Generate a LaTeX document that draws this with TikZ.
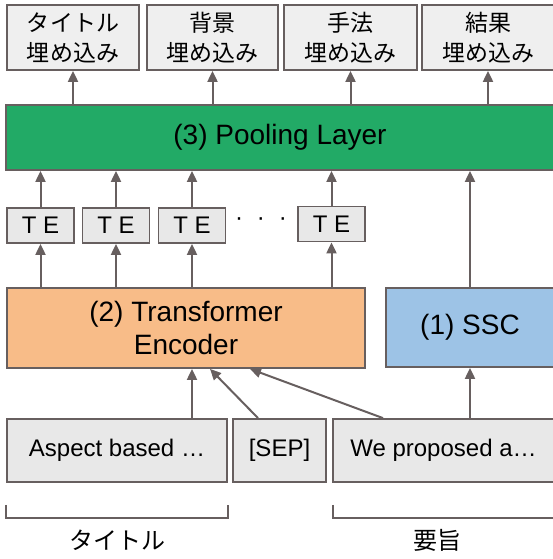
\documentclass[tikz,border=0pt]{standalone}
\usepackage{fontspec}
\setmainfont{Liberation Sans}
\newfontfamily\jpfont{Noto Sans CJK JP}
\usetikzlibrary{arrows.meta}

\definecolor{linegray}{HTML}{675F5F}
\definecolor{boxgray}{HTML}{E8E8E8}
\definecolor{poolgreen}{HTML}{22AA66}
\definecolor{encorange}{HTML}{F8BC88}
\definecolor{sscblue}{HTML}{9DC3E6}

\begin{document}
\begin{tikzpicture}[x=1pt,y=-1pt]

\tikzset{
  box/.style={
    draw=linegray,
    line width=1.8pt,
    rectangle,
    inner sep=0pt,
  },
  outbox/.style={
    box,
    fill=boxgray!70,
    minimum height=65pt,
    align=center,
    font=\jpfont\fontsize{23}{30}\selectfont,
  },
  tebox/.style={
    box,
    fill=boxgray,
    minimum width=67pt,
    minimum height=35pt,
    font=\fontsize{24}{28}\selectfont,
  },
  layer/.style={
    box,
    align=center,
    font=\fontsize{28}{33}\selectfont,
  },
  inbox/.style={
    box,
    fill=boxgray,
    minimum height=63pt,
    font=\fontsize{24}{28}\selectfont,
  },
  arr/.style={
    draw=linegray,
    line width=2pt,
    -{Triangle[width=10pt,length=11pt]},
  },
}

\useasboundingbox (0,0) rectangle (553,559);

% Output embeddings
\node[outbox, minimum width=132pt] (otitle) at (73,37.5)  {タイトル\\埋め込み};
\node[outbox, minimum width=131pt] (oback)  at (212.5,37.5) {背景\\埋め込み};
\node[outbox, minimum width=133pt] (ometh)  at (350.5,37.5) {手法\\埋め込み};
\node[outbox, minimum width=132pt] (ores)   at (488,37.5) {結果\\埋め込み};

% Pooling layer
\node[layer, fill=poolgreen, minimum width=548pt, minimum height=65pt] (pool) at (280,137.5) {(3) Pooling Layer};

% Token embeddings
\node[tebox] (te1) at (40.5,225.5) {T E};
\node[tebox] (te2) at (116,225.5)  {T E};
\node[tebox] (te3) at (192,225.5)  {T E};
\node[font=\fontsize{24}{28}\selectfont] (dots) at (261,222) {·\hspace{14pt}·\hspace{14pt}·};
\node[tebox] (te4) at (331.5,224)  {T E};

% Encoder and SSC
\node[layer, fill=encorange, minimum width=358pt, minimum height=80pt] (enc) at (186,328) {(2) Transformer\\Encoder};
\node[layer, fill=sscblue, minimum width=168pt, minimum height=79pt] (ssc) at (470,327.5) {(1) SSC};

% Inputs
\node[inbox, minimum width=220pt] (title) at (117,450.5)   {Aspect based …};
\node[inbox, minimum width=93pt]  (sep)   at (279.5,450.5) {[SEP]};
\node[inbox, minimum width=221pt] (abst)  at (443.5,450.5) {We proposed a…};

% Brackets and their labels
\draw[linegray, line width=2pt] ([yshift=-22pt]title.south west) -- ([yshift=-35pt]title.south west)
  -- ([yshift=-35pt]title.south east) -- ([yshift=-22pt]title.south east);
\draw[linegray, line width=2pt] ([xshift=1pt,yshift=-22pt]abst.south west) -- ([xshift=1pt,yshift=-35pt]abst.south west)
  -- ([yshift=-35pt]abst.south east);
\node[font=\jpfont\fontsize{24}{28}\selectfont] (ltitle) at (117,540) {タイトル};
\node[font=\jpfont\fontsize{24}{28}\selectfont] (labst)  at (437,540) {要旨};

% Arrows: pooling to outputs
\foreach \o in {otitle,oback,ometh,ores}
  \draw[arr] (\o.south |- pool.north) -- (\o.south);

% Arrows: encoder to TE to pooling
\foreach \t in {te1,te2,te3,te4} {
  \draw[arr] (\t.south |- enc.north) -- (\t.south);
  \draw[arr] (\t.north) -- (\t.north |- pool.south);
}

% Arrows: SSC
\draw[arr] (ssc.south |- abst.north) -- (ssc.south);
\draw[arr] (ssc.north) -- (ssc.north |- pool.south);

% Arrows: inputs to encoder
\draw[arr] ([xshift=75pt]title.north) -- ([xshift=6pt]enc.south);
\draw[arr] ([xshift=-21.5pt]sep.north) -- ([xshift=24pt]enc.south);
\draw[arr] ([xshift=-60.5pt]abst.north) -- ([xshift=64pt]enc.south);

\end{tikzpicture}
\end{document}
